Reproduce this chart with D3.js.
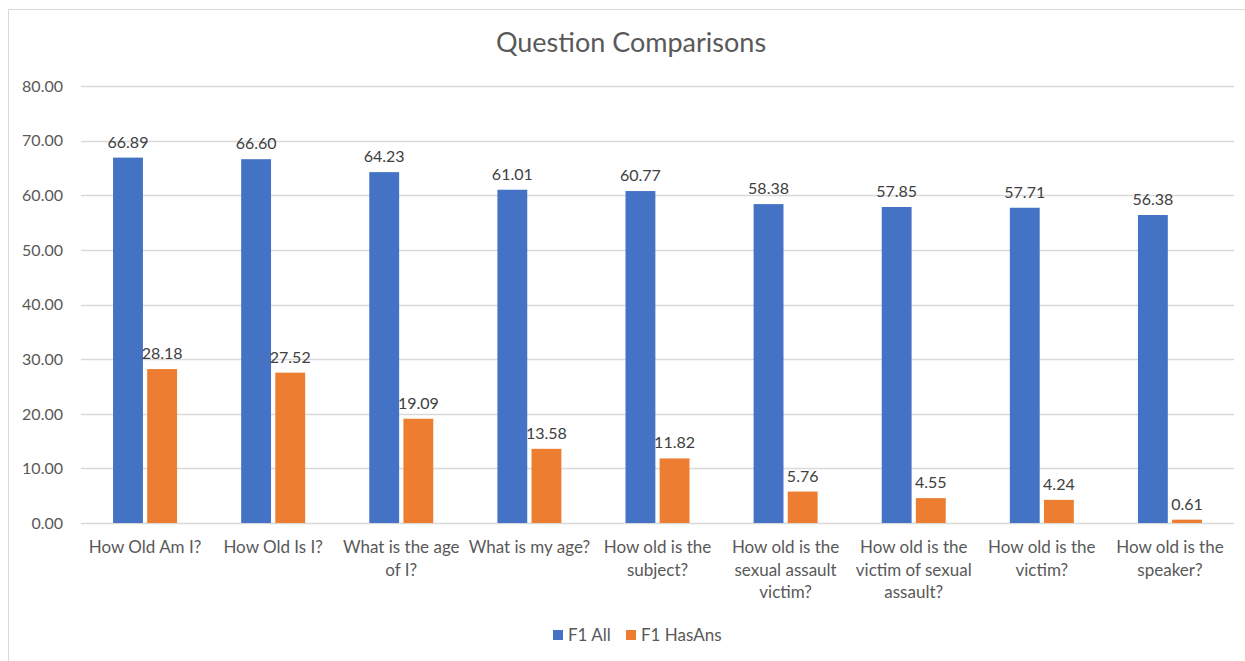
<!DOCTYPE html>
<html lang="en">
<head>
<meta charset="UTF-8"/>
<title>Question Comparisons</title>
<script src="https://cdn.jsdelivr.net/npm/d3@7"></script>
<style>
  body { margin: 0; background: #fff; }
  text { font-family: Lato, "Open Sans", sans-serif; }
</style>
</head>
<body>
<script>
var categories = [
  "How Old Am I?", "How Old Is I?", "What is the age of I?", "What is my age?",
  "How old is the subject?", "How old is the sexual assault victim?",
  "How old is the victim of sexual assault?", "How old is the victim?",
  "How old is the speaker?"
];
var seriesNames = ["F1 All", "F1 HasAns"];
var f1All    = [66.89, 66.60, 64.23, 61.01, 60.77, 58.38, 57.85, 57.71, 56.38];
var f1HasAns = [28.18, 27.52, 19.09, 13.58, 11.82, 5.76, 4.55, 4.24, 0.61];
var yTicks = [0, 10, 20, 30, 40, 50, 60, 70, 80];
var colors = ["#4472C4", "#ED7D31"];

var w = 1245, h = 661;
var plotLeft = 81, plotRight = 1234, plotTop = 86, plotBottom = 523;

var svg = d3.select("body").append("svg")
  .attr("width", w).attr("height", h);

// chart frame (cropped on right and bottom)
svg.append("rect")
  .attr("x", 8.5).attr("y", 9.5)
  .attr("width", w).attr("height", h)
  .attr("fill", "none").attr("stroke", "#D9D9D9");

svg.append("text")
  .attr("x", 631).attr("y", 52)
  .attr("text-anchor", "middle")
  .attr("font-size", "27px")
  .attr("fill", "#595959")
  .text("Question Comparisons");

var x = d3.scaleBand().domain(d3.range(categories.length)).range([plotLeft, plotRight]);
var xs = d3.scaleBand().domain([0, 1]).range([0, 64]).paddingInner(0.125);
var y = d3.scaleLinear().domain([0, 80]).range([plotBottom, plotTop]);

// gridlines
svg.append("g").selectAll("line")
  .data(yTicks).enter().append("line")
  .attr("x1", plotLeft).attr("x2", plotRight)
  .attr("y1", function(d) { return Math.round(y(d)) + 0.5; })
  .attr("y2", function(d) { return Math.round(y(d)) + 0.5; })
  .attr("stroke", "#D9D9D9").attr("stroke-width", 1.3);

// y tick labels
svg.append("g").selectAll("text")
  .data(yTicks).enter().append("text")
  .attr("x", 63)
  .attr("y", function(d) { return y(d); })
  .attr("dy", "0.36em")
  .attr("text-anchor", "end")
  .attr("font-size", "16px")
  .attr("fill", "#595959")
  .text(function(d) { return d.toFixed(2); });

var series = [f1All, f1HasAns];
var groups = svg.append("g").selectAll("g")
  .data(series).enter().append("g")
  .attr("fill", function(d, i) { return colors[i]; });

groups.each(function(vals, si) {
  var g = d3.select(this);
  var off = (x.bandwidth() - 64) / 2 + xs(si);
  g.selectAll("rect")
    .data(vals).enter().append("rect")
    .attr("x", function(d, i) { return x(i) + off; })
    .attr("y", function(d) { return y(d); })
    .attr("width", xs.bandwidth())
    .attr("height", function(d) { return plotBottom - y(d); });
  g.selectAll("text")
    .data(vals).enter().append("text")
    .attr("x", function(d, i) { return x(i) + off + xs.bandwidth() / 2; })
    .attr("y", function(d) { return y(d) - 10; })
    .attr("text-anchor", "middle")
    .attr("font-size", "16px")
    .attr("fill", "#404040")
    .text(function(d) { return d.toFixed(2); });
});

// category labels, wrapped to the band width
var maxW = x.bandwidth() - 2;
svg.append("g").selectAll("text")
  .data(categories).enter().append("text")
  .attr("text-anchor", "middle")
  .attr("font-size", "17px")
  .attr("fill", "#595959")
  .each(function(label, i) {
    var t = d3.select(this);
    var cx = x(i) + x.bandwidth() / 2;
    var words = label.split(" ");
    var line = [];
    var n = 0;
    var ts = t.append("tspan").attr("x", cx).attr("y", 553);
    words.forEach(function(word) {
      line.push(word);
      ts.text(line.join(" "));
      if (ts.node().getComputedTextLength() > maxW && line.length > 1) {
        line.pop();
        ts.text(line.join(" "));
        line = [word];
        n++;
        ts = t.append("tspan").attr("x", cx).attr("y", 553 + n * 22.5).text(word);
      }
    });
  });

// legend
var legend = svg.append("g").selectAll("g")
  .data(seriesNames).enter().append("g")
  .attr("transform", function(d, i) { return "translate(" + [553, 626][i] + ",630)"; });
legend.append("rect")
  .attr("width", 10).attr("height", 10)
  .attr("fill", function(d, i) { return colors[i]; });
legend.append("text")
  .attr("x", 15).attr("y", 10.5)
  .attr("font-size", "17px")
  .attr("fill", "#595959")
  .text(function(d) { return d; });
</script>
</body>
</html>
